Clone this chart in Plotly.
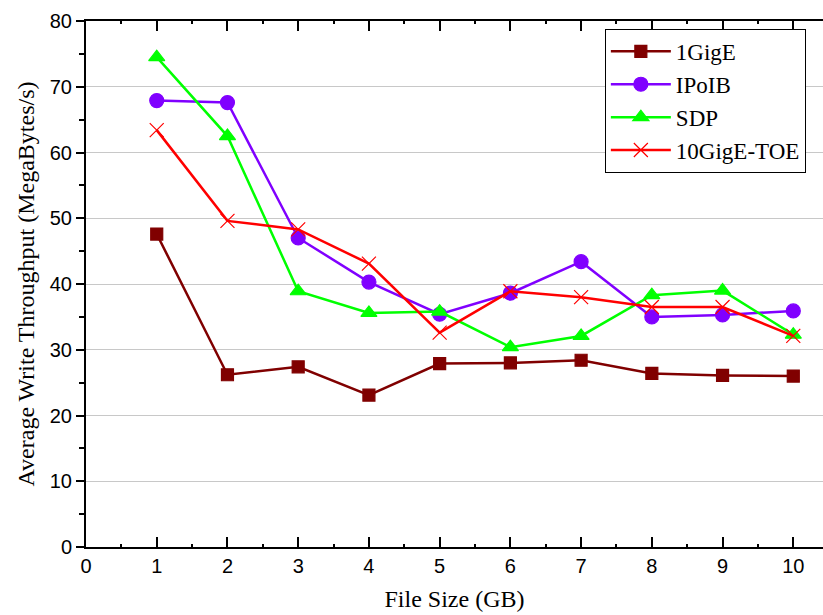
import plotly.graph_objects as go

file_size = [1, 2, 3, 4, 5, 6, 7, 8, 9, 10]
gige_1 = [47.6, 26.2, 27.4, 23.1, 27.9, 28.0, 28.4, 26.4, 26.1, 26.0]
ipoib = [67.9, 67.6, 47.0, 40.3, 35.4, 38.6, 43.4, 35.0, 35.3, 35.9]
sdp = [74.5, 62.5, 38.9, 35.6, 35.8, 30.4, 32.1, 38.3, 39.0, 32.3]
toe_10g = [63.4, 49.6, 48.3, 43.1, 32.6, 38.9, 38.0, 36.5, 36.5, 32.1]

series = [
    ("1GigE", gige_1, "#800000", "square", 12),
    ("IPoIB", ipoib, "#8000FF", "circle", 14),
    ("SDP", sdp, "#00FF00", "triangle-up", 14),
    ("10GigE-TOE", toe_10g, "#FF0000", "x-thin-open", 14),
]

fig = go.Figure()
for name, vals, color, sym, size in series:
    fig.add_trace(go.Scatter(
        x=file_size, y=vals, name=name, mode="lines+markers",
        line=dict(color=color, width=2.5),
        marker=dict(symbol=sym, size=size, color=color,
                    line=dict(color=color, width=1.2)),
    ))

fig.update_layout(
    width=823, height=615,
    margin=dict(l=86, r=0, t=21, b=68),
    plot_bgcolor="white", paper_bgcolor="white",
    showlegend=True,
    legend=dict(
        x=0.704, y=0.985, xanchor="left", yanchor="top",
        bgcolor="white", bordercolor="black", borderwidth=1,
        font=dict(family="Liberation Serif", size=23, color="black"),
        tracegroupgap=0, itemwidth=60,
    ),
)
fig.update_xaxes(
    range=[0, 10.42], tickvals=list(range(0, 11)),
    ticks="inside", ticklen=10, tickwidth=1.5, tickcolor="black",
    showline=True, linecolor="black", linewidth=2, mirror="ticks",
    showgrid=False, zeroline=False,
    minor=dict(dtick=0.5, ticks="inside", ticklen=3, tickcolor="black", showgrid=False),
    tickfont=dict(family="Liberation Sans", size=20, color="black"),
    title=dict(text="File Size (GB)", standoff=14,
               font=dict(family="Liberation Serif", size=24, color="black")),
)
fig.update_yaxes(
    range=[0, 80], dtick=10,
    ticks="outside", ticklen=8, tickwidth=1.5, tickcolor="black",
    showline=True, linecolor="black", linewidth=2,
    showgrid=True, gridcolor="#c8c8c8", gridwidth=1, zeroline=False,
    minor=dict(dtick=5, ticks="outside", ticklen=5, tickcolor="black", showgrid=False),
    tickfont=dict(family="Liberation Sans", size=20, color="black"),
    title=dict(text="Average Write Throughput (MegaBytes/s)", standoff=8,
               font=dict(family="Liberation Serif", size=24, color="black")),
)

fig.write_html("out.html")
